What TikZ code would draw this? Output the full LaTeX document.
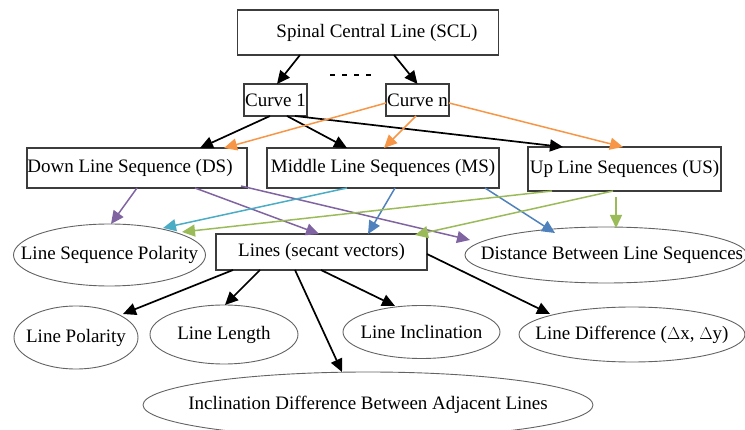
\documentclass[tikz,border=0pt]{standalone}
\usepackage{fontspec}
\setmainfont{Liberation Serif}
\usepackage{xcolor}
\usetikzlibrary{shapes.geometric, arrows.meta, calc}
\definecolor{orangeln}{RGB}{247, 150, 70}
\definecolor{purpleln}{RGB}{128, 100, 162}
\definecolor{cyanln}{RGB}{75, 172, 198}
\definecolor{blueln}{RGB}{79, 129, 189}
\definecolor{greenln}{RGB}{155, 187, 89}
\definecolor{edge}{RGB}{60, 60, 60}
% oval text takes no room, so the given size is kept
\newcommand{\ovtext}[1]{\makebox[0pt]{#1}}
\tikzset{
    every node/.style={font=\fontsize{19}{22}\selectfont, inner sep=0pt},
    box/.style={rectangle, draw=edge, line width=1.1pt, align=center},
    oval/.style={ellipse, draw=edge!80, line width=0.9pt, align=center},
    arr/.style={-{Triangle[length=13pt, width=12pt]}, line width=1.7pt, black},
    oarr/.style={arr, orangeln, line width=1.5pt},
    parr/.style={arr, purpleln, line width=1.5pt},
    carr/.style={arr, cyanln, line width=1.5pt},
    barr/.style={arr, blueln, line width=1.5pt},
    garr/.style={arr, greenln, line width=1.5pt}
}

\begin{document}
\begin{tikzpicture}[x=1pt, y=-1pt]
    \useasboundingbox (0,0) rectangle (745,430);
    % sequence level
    \node[box, minimum width=261pt, minimum height=45pt] (scl) at (368,32.5) {\raisebox{-3pt}{\hspace{18pt}Spinal Central Line (SCL)}};
    \node[box, minimum width=63pt, minimum height=32pt] (c1) at (275.5,100) {Curve 1};
    \node[box, minimum width=63pt, minimum height=32pt] (cn) at (417.5,100) {Curve n};
    \node[box, minimum width=220pt, minimum height=40pt] (ds) at (137,168) {Down Line Sequence (DS)\hspace{14pt}};
    \node[box, minimum width=232pt, minimum height=40pt] (ms) at (383,168) {Middle Line Sequences (MS)};
    \node[box, minimum width=193pt, minimum height=44pt] (us) at (624.5,169) {Up Line Sequences (US)};
    % features
    \node[oval, minimum width=192pt, minimum height=62pt] (lsp) at (109.5,255) {\ovtext{Line Sequence Polarity}};
    \node[box, minimum width=211pt, minimum height=36pt] (lines) at (321.5,252) {Lines (secant vectors)};
    \node[oval, minimum width=282pt, minimum height=56pt] (dist) at (606,255) {\ovtext{\hspace{12pt}Distance Between Line Sequences}};
    \node[oval, minimum width=124pt, minimum height=63pt] (lp) at (76,337.5) {\ovtext{Line Polarity}};
    \node[oval, minimum width=148pt, minimum height=59pt] (ll) at (224,334.5) {\ovtext{Line Length}};
    \node[oval, minimum width=157pt, minimum height=53pt] (li) at (421.5,332) {\ovtext{Line Inclination}};
    \node[oval, minimum width=226pt, minimum height=55pt] (ld) at (632,334.5) {\ovtext{Line Difference ($\Delta$x, $\Delta$y)}};
    \node[oval, minimum width=450pt, minimum height=66pt] (idiff) at (368,405) {\ovtext{Inclination Difference Between Adjacent Lines}};

    \draw[line width=2pt, dash pattern=on 5pt off 7pt] (330,75) -- (372,75);

    \draw[arr] ($(scl)+(-68,22.5)$) -- ($(c1)+(1.5,-16)$);
    \draw[arr] ($(scl)+(26,22.5)$) -- ($(cn)+(0,-16)$);
    \draw[arr] ($(c1)+(-5.5,16)$) -- ($(ds)+(63,-20)$);
    \draw[arr] ($(c1)+(11.5,16)$) -- ($(ms)+(-36,-20)$);
    \draw[arr] ($(c1)+(19.5,16)$) -- ($(us)+(-61.5,-22)$);
    \draw[oarr] ($(cn)+(-31.5,3)$) -- ($(ds)+(87,-20)$);
    \draw[oarr] ($(cn)+(-1.5,16)$) -- ($(ms)+(1,-20)$);
    \draw[oarr] ($(cn)+(31.5,3)$) -- ($(us)+(-1.5,-22)$);

    \draw[parr] ($(ds)+(0,20)$) -- ($(lsp)+(1.5,-31)$);
    \draw[parr] ($(ds)+(58,20)$) -- ($(lines)+(-2.5,-18)$);
    \draw[parr] ($(ds)+(104,18)$) -- ($(dist)+(-136,-15)$);
    \draw[carr] ($(ms)+(-36,20)$) -- ($(lsp)+(53.5,-27)$);
    \draw[barr] ($(ms)+(12,20)$) -- ($(lines)+(46.5,-18)$);
    \draw[barr] ($(ms)+(102,20)$) -- ($(dist)+(-51,-22)$);
    \draw[garr] ($(us)+(-72.5,22)$) -- ($(lsp)+(72.5,-23)$);
    \draw[garr] ($(us)+(-11.5,22)$) -- ($(lines)+(93.5,-17)$);
    \draw[garr] ($(us)+(-8.5,28)$) -- ($(dist)+(10,-27)$);

    \draw[arr] ($(lines)+(-88.5,18)$) -- ($(lp)+(47,-23.5)$);
    \draw[arr] ($(lines)+(-61.5,18)$) -- ($(ll)+(1,-29.5)$);
    \draw[arr] ($(lines)+(-26.5,18)$) -- ($(idiff)+(-26,-33)$);
    \draw[arr] ($(lines)+(-0.5,18)$) -- ($(li)+(-26.5,-26)$);
    \draw[arr] ($(lines)+(105.5,2)$) -- ($(ld)+(-82,-20.5)$);
\end{tikzpicture}
\end{document}
